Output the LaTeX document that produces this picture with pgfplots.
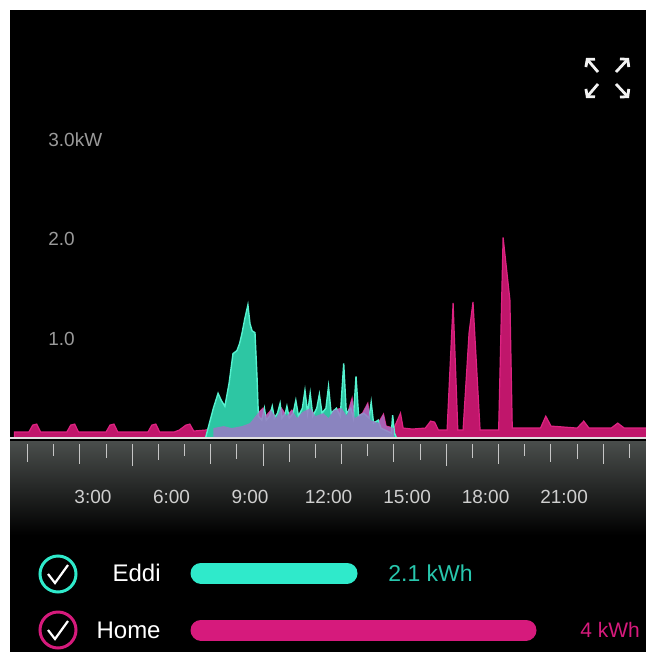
\documentclass[border=0pt]{standalone}
\usepackage{pgfplots}
\usepackage{pgfplotstable}
\pgfplotsset{compat=1.18}
\usepackage{fontspec}
\setmainfont{Liberation Sans}
\usetikzlibrary{arrows.meta}

\definecolor{eddi}{HTML}{2DC6A3}
\definecolor{eddiedge}{HTML}{55F2CF}
\definecolor{home}{HTML}{C0166B}
\definecolor{homeedge}{HTML}{DE2382}
\definecolor{mix}{HTML}{A274C6}
\definecolor{eddibar}{HTML}{2FEACB}
\definecolor{homebar}{HTML}{D61A7C}
\definecolor{ylab}{HTML}{9A9A9A}
\definecolor{xlab}{HTML}{CFCFCF}
\definecolor{bandtop}{HTML}{4A4E4C}
\definecolor{bandmid}{HTML}{262727}

% hour, kW
\pgfplotstableread{
h kw
0 0.06
0.55 0.06
0.7 0.13
0.85 0.14
1.0 0.06
2.0 0.06
2.15 0.13
2.3 0.14
2.45 0.06
3.5 0.06
3.65 0.13
3.8 0.14
3.95 0.06
5.1 0.06
5.25 0.13
5.4 0.14
5.55 0.06
6.1 0.06
6.3 0.08
6.55 0.13
6.7 0.14
6.85 0.07
7.3 0.08
7.6 0.10
8.0 0.12
8.3 0.10
8.7 0.12
9.0 0.15
9.3 0.25
9.5 0.30
9.6 0.22
9.8 0.28
10.0 0.20
10.2 0.30
10.4 0.22
10.6 0.28
10.8 0.20
11.0 0.26
11.3 0.30
11.5 0.22
11.8 0.25
12.0 0.20
12.2 0.28
12.5 0.30
12.7 0.22
12.9 0.40
13.0 0.20
13.3 0.25
13.5 0.35
13.6 0.18
13.9 0.15
14.1 0.24
14.2 0.12
14.5 0.10
14.75 0.25
14.85 0.10
15.2 0.09
15.7 0.10
15.9 0.17
16.05 0.16
16.2 0.08
16.53 0.08
16.76 1.36
16.94 0.08
17.14 0.08
17.37 1.06
17.52 1.37
17.79 0.08
18.5 0.08
18.67 2.02
18.93 1.39
19.02 0.10
19.6 0.10
20.1 0.10
20.3 0.22
20.5 0.12
21.5 0.10
21.75 0.17
21.95 0.10
22.8 0.10
23.05 0.15
23.3 0.10
24.2 0.10
}\home

\pgfplotstableread{
h kw
-0.2 0
7.3 0
7.4 0.10
7.6 0.30
7.78 0.45
7.9 0.38
8.04 0.32
8.2 0.55
8.35 0.85
8.5 0.88
8.6 0.95
8.69 1.05
8.8 1.20
8.92 1.34
9.0 1.15
9.08 1.08
9.19 1.06
9.27 0.60
9.32 0.22
9.45 0.18
9.55 0.30
9.62 0.18
9.75 0.22
9.85 0.32
9.93 0.20
10.05 0.25
10.15 0.35
10.22 0.20
10.35 0.25
10.41 0.32
10.5 0.20
10.65 0.25
10.75 0.38
10.85 0.22
11.0 0.30
11.1 0.48
11.2 0.25
11.3 0.45
11.4 0.22
11.55 0.30
11.65 0.44
11.75 0.25
11.9 0.30
12.0 0.52
12.1 0.25
12.3 0.30
12.45 0.22
12.58 0.75
12.68 0.25
12.85 0.30
12.95 0.20
13.05 0.62
13.15 0.22
13.35 0.25
13.55 0.20
13.63 0.36
13.72 0.15
13.9 0.18
14.0 0.10
14.4 0.05
14.45 0.23
14.52 0.05
14.6 0
24.2 0
}\eddi

\begin{document}
\begin{tikzpicture}
% background, in pixel units of the reference
\begin{scope}[x=0.5pt,y=-0.5pt]
\fill[white] (0,0) rectangle (646,652);
\fill[black] (10,10) rectangle (646,652);
\shade[top color=bandtop, middle color=bandmid, bottom color=black] (10,441) rectangle (646,535);
\foreach \hh/\len in {0/18,1/12,2/20,3/14,4/22,5/16,6/12,7/20,8/15,9/22,10/18,11/14,12/20,13/12,14/18,15/16,16/22,17/14,18/20,19/12,20/18,21/15,22/20,23/14} {
  \draw[gray!45, line width=0.5pt] ({14.5+26.17*\hh+13},444) -- ({14.5+26.17*\hh+13},{444+\len});
}
% expand icon
\begin{scope}[line width=1.4pt, draw=white!90!gray, -{Straight Barb[length=2.5pt,width=6pt]}]
\draw (598,72) -- (586,58);
\draw (616,72) -- (629,58);
\draw (598,84) -- (586,98);
\draw (616,84) -- (629,98);
\end{scope}
\end{scope}

\begin{axis}[
    at={(5pt,-219pt)}, anchor=south west,
    scale only axis,
    width=318pt, height=214pt,
    xmin=-0.17, xmax=24.13,
    ymin=0, ymax=4.31,
    axis on top,
    axis x line*=bottom,
    axis y line*=left,
    x axis line style={draw=white!88!black, line width=1.2pt, -},
    y axis line style={draw=none},
    tick style={draw=none},
    xtick={3,6,9,12,15,18,21},
    xticklabels={3:00,6:00,9:00,12:00,15:00,18:00,21:00},
    xticklabel style={anchor=center, yshift=-29.5pt, text=xlab, font=\fontsize{9.5}{11}\selectfont},
    ytick={1,2,3},
    yticklabels={1.0,2.0,3.0kW},
    yticklabel style={anchor=west, inner sep=0pt, xshift=19pt, text=ylab, font=\fontsize{9.5}{11}\selectfont},
  ]
\addplot[draw=homeedge, fill=home, line width=0.6pt] table[x=h, y=kw] {\home} \closedcycle;
\addplot[draw=eddiedge, fill=eddi, line width=0.7pt] table[x=h, y=kw] {\eddi} \closedcycle;
\addplot[draw=none, fill=mix, fill opacity=0.8, restrict x to domain=7.35:14.6] table[x=h, y=kw] {\home} \closedcycle;
\end{axis}

% legend bars
\begin{axis}[
    at={(74.6pt,-315pt)}, anchor=south west,
    scale only axis,
    width=211.95pt, height=28.5pt,
    xmin=0, xmax=4.5, ymin=0, ymax=1,
    hide axis, clip=false,
  ]
\addplot[eddibar, line width=10.5pt, line cap=round] coordinates {(0.55,1) (2.1,1)};
\addplot[homebar, line width=10.5pt, line cap=round] coordinates {(0.55,0) (4,0)};
\end{axis}

\begin{scope}[x=0.5pt,y=-0.5pt]
\draw[eddibar, line width=1.5pt] (58,574) circle[radius=18];
\draw[homebar, line width=1.5pt] (58,630) circle[radius=18];
\draw[white, line width=1.1pt] (48,574) -- (55,583) -- (68,565);
\draw[white, line width=1.1pt] (48,630) -- (55,639) -- (68,621);
\node[anchor=east, inner sep=0pt, text=white, font=\fontsize{12}{14}\selectfont] at (161,573) {Eddi};
\node[anchor=east, inner sep=0pt, text=white, font=\fontsize{12}{14}\selectfont] at (161,630) {Home};
\node[anchor=west, inner sep=0pt, text=eddibar!85!black, font=\fontsize{11.5}{14}\selectfont] at (388,573) {2.1 kWh};
\node[anchor=west, inner sep=0pt, text=homebar, font=\fontsize{10.5}{14}\selectfont] at (580,630) {4 kWh};
\end{scope}
\pgfresetboundingbox
\path[use as bounding box] (0,0) rectangle (323pt,-326pt);
\end{tikzpicture}
\end{document}
